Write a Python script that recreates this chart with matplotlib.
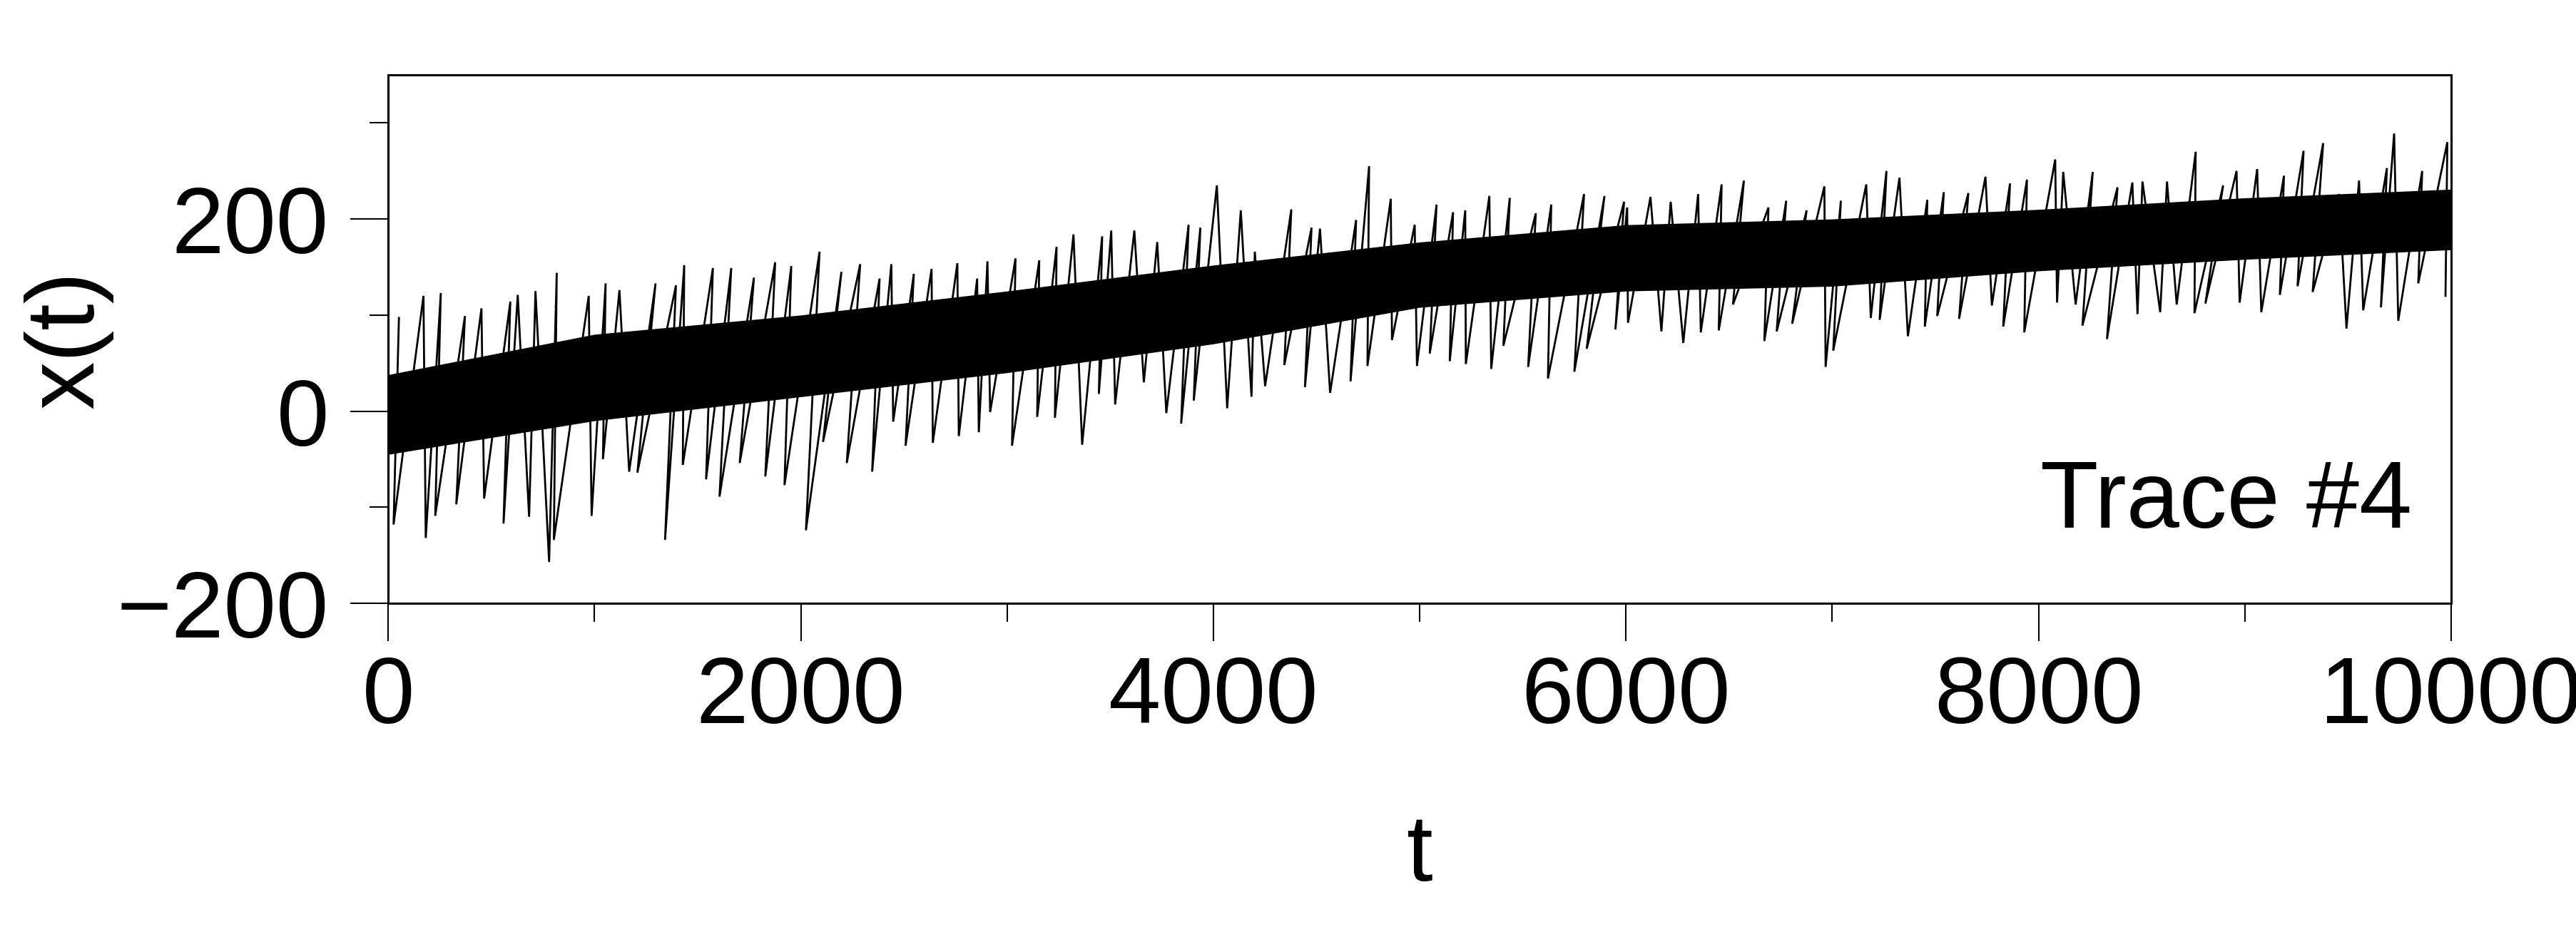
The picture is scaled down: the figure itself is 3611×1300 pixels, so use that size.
import matplotlib.pyplot as plt
import numpy as np

plt.rcParams['font.family'] = ['Liberation Sans', 'DejaVu Sans']

# Trace #4: for every stretch of 100 time steps the
# tallest upward spike (time, value) and the deepest downward spike (time, value)
peak_t = [52, 171, 255, 372, 452, 592, 628, 714, 817, 972,
          1054, 1121, 1296, 1395, 1435, 1574, 1663, 1773, 1876, 1954,
          2091, 2197, 2288, 2382, 2439, 2548, 2634, 2759, 2855, 2905,
          3041, 3156, 3240, 3322, 3461, 3505, 3617, 3728, 3880, 3937,
          4017, 4133, 4201, 4378, 4476, 4517, 4692, 4755, 4860, 4976,
          5082, 5162, 5221, 5338, 5437, 5563, 5638, 5797, 5896, 5991,
          6006, 6119, 6217, 6350, 6464, 6572, 6691, 6777, 6876, 6962,
          7042, 7165, 7263, 7326, 7461, 7541, 7660, 7743, 7862, 7944,
          8081, 8120, 8263, 8383, 8455, 8504, 8623, 8762, 8895, 8960,
          9060, 9190, 9285, 9380, 9457, 9554, 9689, 9724, 9860, 9982]
peak_x = [97, 120, 123, 99, 107, 114, 121, 125, 144, 120,
          133, 126, 133, 131, 152, 149, 149, 139, 155, 151,
          166, 145, 153, 138, 153, 143, 148, 154, 138, 156,
          159, 157, 171, 184, 182, 188, 188, 176, 194, 191,
          235, 209, 166, 210, 191, 190, 199, 255, 221, 194,
          215, 207, 209, 224, 222, 206, 215, 226, 224, 218,
          212, 223, 218, 226, 236, 240, 212, 219, 209, 234,
          219, 236, 250, 243, 220, 228, 227, 244, 237, 241,
          262, 249, 249, 233, 238, 239, 239, 270, 235, 250,
          252, 245, 271, 279, 226, 240, 253, 289, 250, 280]
dip_t = [26, 182, 228, 330, 465, 559, 683, 780, 803, 986,
         1041, 1168, 1208, 1342, 1428, 1541, 1606, 1704, 1828, 1921,
         2025, 2108, 2223, 2346, 2448, 2508, 2640, 2766, 2863, 2918,
         3024, 3146, 3232, 3364, 3445, 3524, 3663, 3772, 3844, 3905,
         4067, 4185, 4251, 4344, 4444, 4566, 4665, 4747, 4866, 4987,
         5049, 5146, 5224, 5347, 5406, 5526, 5622, 5750, 5810, 5949,
         6010, 6172, 6278, 6363, 6450, 6519, 6671, 6731, 6806, 6968,
         7005, 7187, 7230, 7367, 7449, 7509, 7615, 7774, 7829, 7931,
         8090, 8180, 8213, 8332, 8480, 8590, 8670, 8756, 8809, 8975,
         9080, 9170, 9256, 9329, 9493, 9574, 9660, 9744, 9841, 9973]
dip_x = [-118, -132, -109, -97, -91, -117, -110, -157, -134, -109,
         -50, -63, -64, -134, -56, -71, -89, -54, -68, -77,
         -124, -32, -54, -63, -11, -36, -33, -26, -22, -1,
         -36, -6, -7, -35, 18, 7, 30, -2, -13, 11,
         3, 15, 26, 48, 25, 19, 31, 47, 74, 47,
         60, 52, 49, 44, 68, 46, 34, 41, 65, 85,
         92, 83, 71, 82, 84, 111, 73, 83, 91, 46,
         63, 97, 95, 78, 88, 99, 96, 110, 88, 82,
         113, 111, 89, 75, 101, 103, 111, 102, 112, 113,
         103, 121, 130, 124, 86, 105, 108, 94, 133, 120]

# the dark middle of the trace, read every 1000 steps
core_t = [0, 1000, 2000, 3000, 4000, 5000, 6000, 7000, 8000, 9000, 10000]
core_lo = [-45, -10, 15, 40, 70, 108, 125, 130, 146, 158, 168]
core_hi = [38, 80, 100, 125, 152, 176, 194, 200, 210, 222, 231]

x_major = [0, 2000, 4000, 6000, 8000, 10000]
x_minor = [1000, 3000, 5000, 7000, 9000]
y_major = [-200, 0, 200]
y_minor = [-100, 100, 300]

fig = plt.figure(figsize=(36.11, 13), dpi=100)
ax = fig.add_axes([0.1507, 0.3492, 0.8008, 0.57])

# the trace swings from each spike to the next dip and back
trace_t = np.column_stack([peak_t, dip_t]).ravel()
trace_x = np.column_stack([peak_x, dip_x]).ravel()
ax.fill_between(core_t, core_lo, core_hi, color='black', lw=0)
ax.plot(trace_t, trace_x, color='black', lw=2.0, solid_joinstyle='miter')

ax.set_xlim(0, 10000)
ax.set_ylim(-200, 350)
ax.set_xticks(x_major)
ax.set_xticks(x_minor, minor=True)
ax.set_yticks(y_major)
ax.set_yticks(y_minor, minor=True)
ax.tick_params(which='major', length=38, width=1.5, labelsize=95)
ax.tick_params(which='minor', length=19, width=1.5)
ax.tick_params(axis='x', which='major', pad=14)
ax.tick_params(axis='y', which='major', pad=22)
for s in ax.spines.values():
    s.set_linewidth(2.2)

ax.set_xlabel('t', fontsize=95)
ax.set_ylabel('x(t)', fontsize=97)
ax.xaxis.set_label_coords(0.5, -0.395)
ax.yaxis.set_label_coords(-0.1335, 0.5)

ax.text(9810, -121, 'Trace #4', fontsize=96, ha='right', va='baseline')

fig.savefig('out.png', dpi=100)
